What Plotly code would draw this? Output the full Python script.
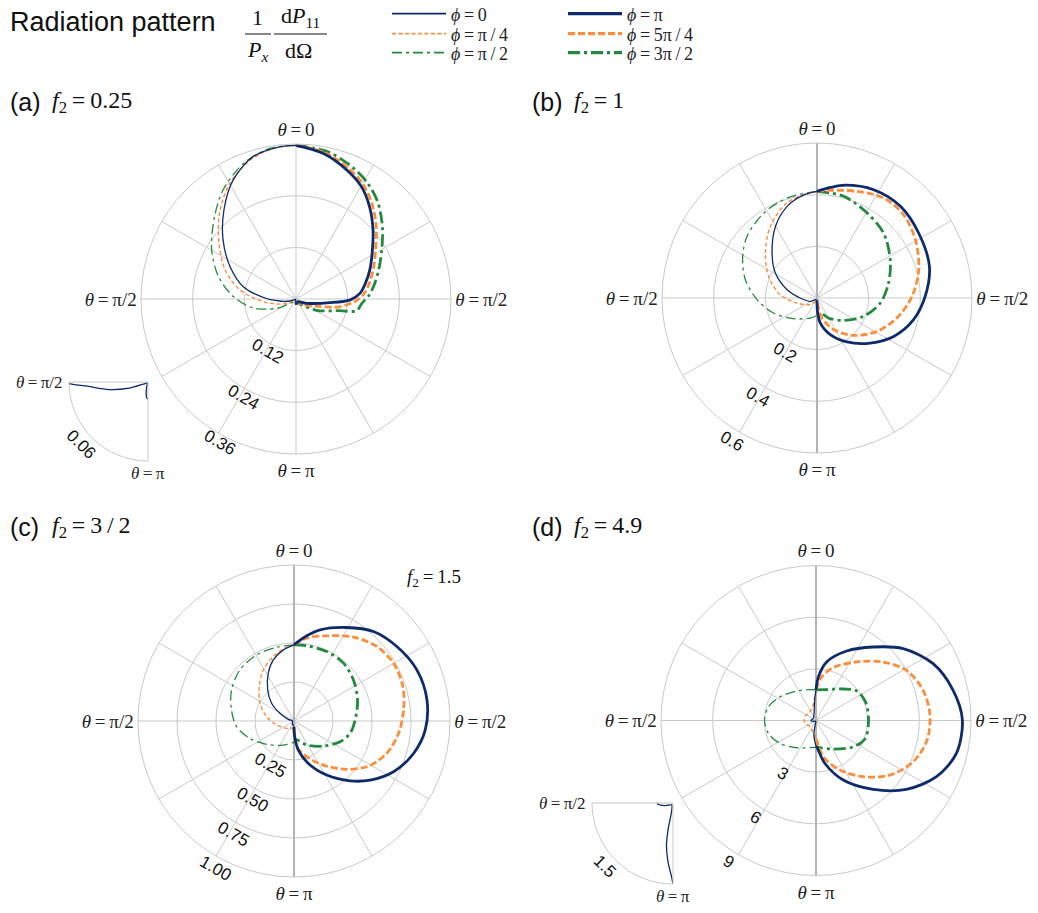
import math
import plotly.graph_objects as go

# ---------------- data (theta in degrees measured from +z, r values) ----------------
# panel (a) f2 = 0.25
a_phi0_theta = [0, 7, 17, 28, 39, 51, 64, 77, 90, 94, 101, 108, 115, 140, 165, 170, 175, 180]
a_phi0_r = [0.357, 0.355, 0.345, 0.312, 0.266, 0.218, 0.170, 0.125, 0.065, 0.046, 0.030, 0.015, 0.004, 0.001, 0.004, 0.008, 0.012, 0.013]
a_phi1_theta = [0, 8, 18, 30, 42, 54, 68, 81, 95, 112, 130, 155, 180]
a_phi1_r = [0.357, 0.354, 0.340, 0.309, 0.266, 0.221, 0.177, 0.131, 0.075, 0.031, 0.007, 0.005, 0.01]
a_phi2_theta = [0, 10, 21, 34, 46, 60, 74, 88, 102, 116, 127, 150, 180]
a_phi2_r = [0.357, 0.355, 0.338, 0.304, 0.265, 0.226, 0.187, 0.145, 0.101, 0.049, 0.017, 0.008, 0.01]
a_phi4_theta = [0, 10.7, 21.5, 30.2, 38.6, 48.2, 59.1, 68.6, 77.4, 85, 90.9, 96.1, 111, 135, 160, 180]
a_phi4_r = [0.357, 0.344, 0.322, 0.302, 0.274, 0.240, 0.206, 0.184, 0.165, 0.149, 0.126, 0.080, 0.028, 0.009, 0.008, 0.013]
a_phi5_theta = [0, 10.7, 21.5, 30.2, 38.6, 48.2, 59.1, 68.6, 77.4, 85, 91, 95, 100.2, 108.8, 125, 150, 180]
a_phi5_r = [0.357, 0.347, 0.328, 0.309, 0.283, 0.250, 0.215, 0.193, 0.175, 0.160, 0.142, 0.125, 0.102, 0.053, 0.024, 0.01, 0.01]
a_phi6_theta = [0, 12, 22, 31, 40, 50, 60, 70, 79, 87, 94, 101, 105, 118, 132, 155, 180]
a_phi6_r = [0.357, 0.350, 0.335, 0.318, 0.295, 0.262, 0.230, 0.205, 0.186, 0.170, 0.153, 0.143, 0.104, 0.057, 0.024, 0.01, 0.01]

# panel (b) f2 = 1
b_phi0_theta = [0, 7, 18, 30, 45, 59, 74.5, 90, 117, 135, 160, 180]
b_phi0_r = [0.413, 0.403, 0.373, 0.321, 0.246, 0.188, 0.120, 0.065, 0.029, 0.009, 0.008, 0.01]
b_phi1_theta = [0, 17.5, 33, 49, 66, 85, 104, 135, 160, 180]
b_phi1_r = [0.413, 0.386, 0.331, 0.265, 0.205, 0.143, 0.080, 0.036, 0.015, 0.01]
b_phi2_theta = [0, 16.7, 32, 48.6, 61.7, 75.7, 91.6, 109, 131.5, 161.6, 180]
b_phi2_r = [0.413, 0.404, 0.388, 0.361, 0.327, 0.286, 0.232, 0.178, 0.121, 0.082, 0.068]
b_phi4_theta = [0, 7, 14, 27.6, 42.3, 57.4, 74.3, 89, 102.6, 116.6, 130.2, 145.7, 160, 172.4, 178, 180]
b_phi4_r = [0.413, 0.431, 0.450, 0.473, 0.480, 0.467, 0.452, 0.419, 0.383, 0.332, 0.270, 0.206, 0.151, 0.098, 0.052, 0.01]
b_phi5_theta = [0, 7, 20.6, 33.7, 46, 59.3, 74.4, 89, 104, 119, 135.5, 152, 166, 173, 180]
b_phi5_r = [0.413, 0.420, 0.441, 0.465, 0.465, 0.443, 0.409, 0.368, 0.319, 0.266, 0.203, 0.139, 0.080, 0.033, 0.01]
b_phi6_theta = [0, 14.7, 30.5, 45.7, 62.4, 78.2, 94.5, 111.4, 130, 149.7, 167.5, 180]
b_phi6_r = [0.413, 0.407, 0.382, 0.360, 0.320, 0.283, 0.246, 0.194, 0.135, 0.090, 0.059, 0.068]

# panel (c) f2 = 3/2
c_phi0_theta = [0, 8.5, 18.7, 28.3, 40.3, 51.7, 61.3, 73.6, 90, 120, 160, 180]
c_phi0_r = [0.488, 0.461, 0.414, 0.348, 0.261, 0.183, 0.103, 0.038, 0.009, 0.012, 0.025, 0.03]
c_phi1_theta = [0, 5.7, 17.8, 31, 45.3, 62.5, 81, 103, 135, 162, 180]
c_phi1_r = [0.488, 0.476, 0.434, 0.382, 0.313, 0.246, 0.178, 0.114, 0.067, 0.049, 0.04]
c_phi2_theta = [0, 13.2, 29.5, 46.6, 63.6, 80, 95.6, 111.5, 130.5, 156, 176.5, 180]
c_phi2_r = [0.488, 0.486, 0.487, 0.477, 0.447, 0.407, 0.370, 0.304, 0.231, 0.169, 0.139, 0.14]
c_phi4_theta = [0, 8.5, 16, 29.4, 41.6, 54.1, 67.4, 81, 94, 105.2, 117, 127.8, 136.8, 148.8, 161.3, 171.5, 177.6, 180]
c_phi4_r = [0.488, 0.552, 0.608, 0.688, 0.767, 0.814, 0.853, 0.863, 0.843, 0.794, 0.716, 0.618, 0.526, 0.405, 0.287, 0.188, 0.10, 0.036]
c_phi5_theta = [0, 8.7, 21, 35.3, 48, 60, 72.5, 84.3, 96.7, 109.2, 121.2, 132.5, 146.3, 160.4, 174, 180]
c_phi5_r = [0.488, 0.537, 0.585, 0.659, 0.714, 0.738, 0.732, 0.706, 0.675, 0.630, 0.558, 0.459, 0.340, 0.243, 0.166, 0.04]
c_phi6_theta = [0, 9.6, 25.2, 40.5, 55.4, 71.7, 89, 102.4, 114.2, 130.4, 152.2, 172, 180]
c_phi6_r = [0.488, 0.489, 0.492, 0.488, 0.463, 0.429, 0.392, 0.368, 0.324, 0.248, 0.174, 0.123, 0.14]

# panel (d) f2 = 4.9
d_phi0_theta = [0, 3, 6, 10, 20, 40, 60, 80, 92, 108, 127, 150, 168, 170.5, 169.5, 171.3, 175.2, 178.7, 180]
d_phi0_r = [1.78, 1.3, 0.9, 0.6, 0.35, 0.22, 0.2, 0.26, 0.29, 0.16, 0.06, 0.04, 0.09, 0.19, 0.5, 0.8, 1.1, 1.35, 1.5]
d_phi1_theta = [0, 5, 15, 40, 70, 90, 110, 140, 165, 180]
d_phi1_r = [1.78, 1.2, 0.8, 0.6, 0.7, 0.7, 0.6, 0.5, 0.7, 1.0]
d_phi2_theta = [0, 15, 33, 56.7, 74, 89.6, 105.3, 122.6, 144.7, 174.4, 180]
d_phi2_r = [1.78, 1.85, 2.05, 2.50, 2.87, 2.99, 2.86, 2.48, 1.94, 1.57, 1.56]
d_phi4_theta = [0, 3.1, 10.3, 23.8, 37.9, 50.5, 64.1, 77.5, 89.9, 103.2, 115, 127.3, 140.3, 155.4, 168.2, 178.5, 180]
d_phi4_r = [1.78, 2.53, 3.455, 4.41, 5.41, 6.56, 7.56, 8.15, 8.50, 8.37, 7.72, 6.60, 5.20, 3.80, 2.55, 1.53, 1.5]
d_phi5_theta = [0, 7.4, 18.1, 34.7, 48.9, 61, 74.2, 86.5, 100, 113, 126.5, 140, 154.2, 168.6, 178, 180]
d_phi5_r = [1.78, 2.55, 3.23, 4.14, 5.17, 6.01, 6.46, 6.62, 6.55, 6.13, 5.33, 4.26, 3.20, 2.15, 1.14, 1.0]
d_phi6_theta = [0, 15, 37.2, 53.9, 69.4, 89.6, 110, 125.2, 148.8, 175, 180]
d_phi6_r = [1.78, 1.85, 2.30, 2.92, 3.07, 3.05, 3.04, 2.65, 1.94, 1.57, 1.55]

phi_values = ["0", "π/4", "π/2", "π", "5π/4", "3π/2"]
panel_titles = ["(a)", "(b)", "(c)", "(d)"]
panel_f2 = ["0.25", "1", "3/2", "4.9"]
radial_ticks = [[0.12, 0.24, 0.36], [0.2, 0.4, 0.6], [0.25, 0.5, 0.75, 1.0], [3, 6, 9]]
radial_ticktext = [["0.12", "0.24", "0.36"], ["0.2", "0.4", "0.6"], ["0.25", "0.50", "0.75", "1.00"], ["3", "6", "9"]]
inset_ticks = [0.06, 1.5]
inset_ticktext = ["0.06", "1.5"]

# ---------------- styles ----------------
BLUE = "#0d2b6b"
ORANGE = "#fb8e3c"
GREEN = "#23893f"
GRID = "#c9c9c9"
SERIF = "Liberation Serif"
SANS = "Liberation Sans"
TS = "\u2009"  # thin space
styles = [
    dict(color=BLUE, width=1.3, dash="solid"),
    dict(color=ORANGE, width=1.4, dash="4px,2.5px"),
    dict(color=GREEN, width=1.3, dash="10px,4px,3px,4px"),
    dict(color=BLUE, width=2.8, dash="solid"),
    dict(color=ORANGE, width=2.8, dash="7px,3px"),
    dict(color=GREEN, width=2.8, dash="12px,4px,3px,4px"),
]

panels = [
    [(a_phi0_theta, a_phi0_r), (a_phi1_theta, a_phi1_r), (a_phi2_theta, a_phi2_r),
     (a_phi4_theta, a_phi4_r), (a_phi5_theta, a_phi5_r), (a_phi6_theta, a_phi6_r)],
    [(b_phi0_theta, b_phi0_r), (b_phi1_theta, b_phi1_r), (b_phi2_theta, b_phi2_r),
     (b_phi4_theta, b_phi4_r), (b_phi5_theta, b_phi5_r), (b_phi6_theta, b_phi6_r)],
    [(c_phi0_theta, c_phi0_r), (c_phi1_theta, c_phi1_r), (c_phi2_theta, c_phi2_r),
     (c_phi4_theta, c_phi4_r), (c_phi5_theta, c_phi5_r), (c_phi6_theta, c_phi6_r)],
    [(d_phi0_theta, d_phi0_r), (d_phi1_theta, d_phi1_r), (d_phi2_theta, d_phi2_r),
     (d_phi4_theta, d_phi4_r), (d_phi5_theta, d_phi5_r), (d_phi6_theta, d_phi6_r)],
]

# the page body margin is removed by a post script, so the figure fills the window
W, H = 1038, 913


def px(x):
    return x / W


def py(y):
    return 1 - y / H


# circle centres / radii in page pixels
main_geo = [(296, 299, 155), (817, 298, 155), (294, 721, 156), (816, 720.5, 155)]
inset_geo = [(148, 382, 79), (673, 803, 81)]

fig = go.Figure()

EQ = f"{TS}={TS}"


def ang_text(v):
    th = "<i>θ</i>" + EQ
    return {0: th + "0", 90: th + "π/2", 180: th + "π", 270: th + "π/2"}.get(v, "")


annotations = []


def radial_labels(cx, cy, R, rmax, vals, texts, ang, off, size, textangle):
    a = math.radians(ang)
    for v, t in zip(vals, texts):
        d = v / rmax * R + off
        annotations.append(dict(x=px(cx - d * math.sin(a)), y=py(cy + d * math.cos(a)), text=t,
                                textangle=textangle, xanchor="center", yanchor="middle",
                                font=dict(family=SANS, size=size, color="#111")))


rl_params = [(28, 8), (30.5, 12), (28, 11), (32, 11)]

for p, curves in enumerate(panels):
    sub = "polar" if p == 0 else f"polar{p+1}"
    rmax = radial_ticks[p][-1]
    if p > 0:
        fig.add_trace(go.Scatterpolar(r=[rmax, 0, rmax], theta=[0, 0, 180], mode="lines",
                                      line=dict(color="#b3b3b3", width=2), subplot=sub,
                                      showlegend=False, hoverinfo="skip"))
    for k in [2, 1, 0, 5, 4, 3]:
        th, rr = curves[k]
        theta = [360 - t for t in th] if k < 3 else list(th)
        st = styles[k]
        fig.add_trace(go.Scatterpolar(
            r=rr, theta=theta, mode="lines", subplot=sub,
            line=dict(color=st["color"], width=st["width"], dash=st["dash"], shape="spline", smoothing=0.9),
            name="ϕ=" + phi_values[k], showlegend=False, hoverinfo="skip"))
    cx, cy, R = main_geo[p]
    fig.layout[sub] = dict(
        domain=dict(x=[px(cx - R), px(cx + R)], y=[py(cy + R), py(cy - R)]),
        bgcolor="white",
        angularaxis=dict(rotation=90, direction="clockwise", tickmode="array",
                         tickvals=list(range(0, 360, 30)),
                         ticktext=[ang_text(v) for v in range(0, 360, 30)],
                         showline=True, linecolor=GRID, linewidth=1, gridcolor=GRID, gridwidth=1,
                         ticks="", tickfont=dict(family=SERIF, size=19, color="#222")),
        radialaxis=dict(range=[0, rmax], tickmode="array", tickvals=radial_ticks[p],
                        showticklabels=False, angle=240,
                        showline=False, gridcolor=GRID, gridwidth=1, ticks=""),
    )
    ang, off = rl_params[p]
    radial_labels(cx, cy, R, rmax, radial_ticks[p], radial_ticktext[p], ang, off, 17, 30)

# insets (phi = 0 curve zoomed on theta in [pi/2, pi])
for i, p in enumerate([0, 3]):
    sub = f"polar{5+i}"
    th, rr = panels[p][0]
    fig.add_trace(go.Scatterpolar(r=rr, theta=[360 - t for t in th], mode="lines", subplot=sub,
                                  line=dict(color=BLUE, width=1.3, shape="spline", smoothing=0.9),
                                  showlegend=False, hoverinfo="skip"))
    cx, cy, R = inset_geo[i]
    fig.layout[sub] = dict(
        domain=dict(x=[px(cx - R), px(cx)], y=[py(cy + R), py(cy)]),
        sector=[180, 270], bgcolor="white",
        angularaxis=dict(rotation=90, direction="clockwise", tickmode="array",
                         tickvals=[180, 270], showticklabels=False,
                         showline=True, linecolor=GRID, gridcolor=GRID, ticks=""),
        radialaxis=dict(range=[0, inset_ticks[i]], tickmode="array", tickvals=[inset_ticks[i]],
                        showticklabels=False, angle=225, showline=False, gridcolor=GRID, ticks=""),
    )
    radial_labels(cx, cy, R, inset_ticks[i], [inset_ticks[i]], [inset_ticktext[i]], 47, 12, 17, 45)
    th_lab = "<i>θ</i>" + EQ
    annotations.append(dict(x=px(cx - R - 4), y=py(cy), text=th_lab + "π/2", xanchor="right",
                            yanchor="middle", font=dict(family=SERIF, size=17, color="#222")))
    annotations.append(dict(x=px(cx), y=py(cy + R + 12), text=th_lab + "π", xanchor="center",
                            yanchor="middle", font=dict(family=SERIF, size=17, color="#222")))

# legend traces (six single-entry legends laid out as 2 columns x 3 rows)
leg_cols = [387, 563]
leg_rows = [14, 34, 53]
legend_layout = {}
for k in range(6):
    st = styles[k]
    lname = "legend" if k == 0 else f"legend{k+1}"
    fig.add_trace(go.Scatterpolar(r=[None], theta=[None], mode="lines", subplot="polar",
                                  line=dict(color=st["color"], width=st["width"] + 0.4, dash=st["dash"]),
                                  name="<i>ϕ</i>" + EQ + phi_values[k].replace("/", f"{TS}/{TS}"),
                                  legend=lname, showlegend=True))
    legend_layout[lname] = dict(x=px(leg_cols[k // 3]), y=py(leg_rows[k % 3]), xanchor="left",
                                yanchor="middle", font=dict(family=SERIF, size=18, color="#222"),
                                bgcolor="rgba(0,0,0,0)", itemwidth=54)

annotations += [
    dict(x=px(8), y=py(22), text="Radiation pattern", font=dict(family=SANS, size=27, color="#111"),
         xanchor="left", yanchor="middle"),
    dict(x=px(257), y=py(17), text="1", font=dict(family=SERIF, size=22, color="#111"),
         xanchor="center", yanchor="middle"),
    dict(x=px(257), y=py(51), text="<i>P</i><sub><i>x</i></sub>", font=dict(family=SERIF, size=22, color="#111"),
         xanchor="center", yanchor="middle"),
    dict(x=px(300), y=py(17), text="d<i>P</i><sub>11</sub>", font=dict(family=SERIF, size=22, color="#111"),
         xanchor="center", yanchor="middle"),
    dict(x=px(298), y=py(51), text="dΩ", font=dict(family=SERIF, size=22, color="#111"),
         xanchor="center", yanchor="middle"),
    dict(x=px(405), y=py(578), text="<i>f</i><sub>2</sub>" + EQ + "1.5", font=dict(family=SERIF, size=19, color="#111"),
         xanchor="left", yanchor="middle"),
]
label_pos = [(8, 102), (530, 102), (8, 527), (530, 527)]
for p in range(4):
    x, y = label_pos[p]
    annotations.append(dict(x=px(x), y=py(y), text=panel_titles[p], xanchor="left", yanchor="middle",
                            font=dict(family=SANS, size=25, color="#111")))
    f2txt = panel_f2[p].replace("/", f"{TS}/{TS}")
    annotations.append(dict(x=px(x + 42), y=py(y), text="<i>f</i><sub>2</sub>" + EQ + f2txt,
                            xanchor="left", yanchor="middle",
                            font=dict(family=SERIF, size=24, color="#111")))
for a in annotations:
    a.update(xref="paper", yref="paper", showarrow=False)

shapes = [
    dict(type="line", xref="paper", yref="paper", x0=px(245), x1=px(271), y0=py(34), y1=py(34),
         line=dict(color="#111", width=1)),
    dict(type="line", xref="paper", yref="paper", x0=px(274), x1=px(327), y0=py(34), y1=py(34),
         line=dict(color="#111", width=1)),
]

fig.update_layout(
    width=W, height=H, margin=dict(l=0, r=0, t=0, b=0, autoexpand=False),
    paper_bgcolor="white", plot_bgcolor="white",
    annotations=annotations, shapes=shapes,
    **legend_layout,
)

fig.write_html("out.html", config={"displayModeBar": False},
               post_script="document.body.style.margin='0px';document.body.style.overflow='hidden';")
